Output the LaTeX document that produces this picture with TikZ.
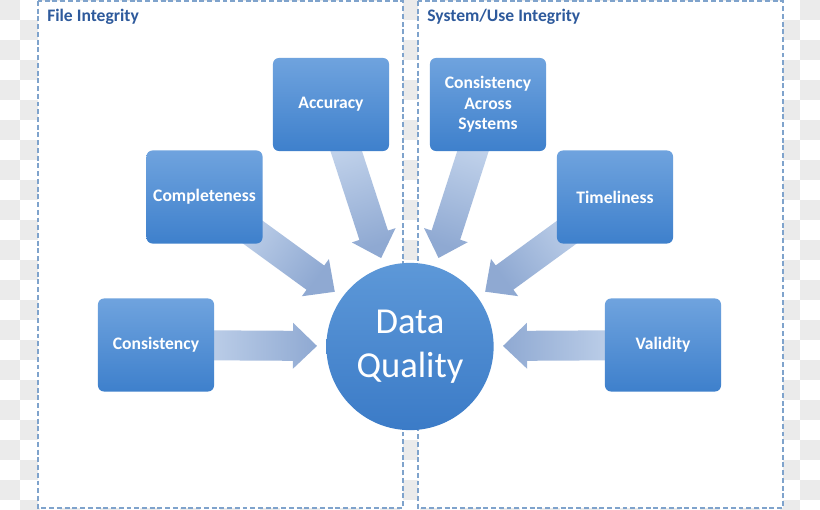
\documentclass[tikz,border=0pt]{standalone}
\usepackage{fontspec}
\setmainfont{Carlito}
\usetikzlibrary{calc}

\definecolor{checkgray}{HTML}{EBEBEB}
\definecolor{framecol}{HTML}{7FA3CC}
\definecolor{titlecol}{HTML}{2E5A9C}
\definecolor{boxtop}{HTML}{6FA3DE}
\definecolor{boxbot}{HTML}{3E80CC}
\definecolor{coretop}{HTML}{5D98D8}
\definecolor{corebot}{HTML}{3B7BC7}
\definecolor{arrowlight}{HTML}{D2E0F3}
\definecolor{arrowdark}{HTML}{8FA9D2}

\pgfdeclarelayer{back}
\pgfdeclarelayer{mid}
\pgfsetlayers{back,mid,main}

\tikzset{
  factor/.style={rectangle, rounded corners=0.15cm, top color=boxtop, bottom color=boxbot,
    text=white, font=\bfseries\fontsize{12.5}{14.5}\selectfont, align=center,
    minimum width=2.9cm, minimum height=2.325cm, inner sep=2pt},
  core/.style={circle, top color=coretop, bottom color=corebot, text=white,
    font=\fontsize{26}{31}\selectfont, align=center, minimum size=4.18cm, inner sep=0pt},
  frame/.style={draw=framecol, fill=white, line width=0.8pt, dash pattern=on 3.5pt off 2pt},
  heading/.style={anchor=base west, text=titlecol, inner sep=0pt,
    font=\bfseries\fontsize{12.5}{15}\selectfont},
  bigarrow/.style={top color=arrowdark, bottom color=arrowlight, shading angle=#1}
}

% block arrow from a box to the circle
\newcommand\feed[3]{%
  \coordinate (tip) at ($(#2)!2.325cm!(#1)$);
  \coordinate (neck) at ($(tip)!0.6cm!(#1)$);
  \path[bigarrow=#3] ($(#1)!0.375cm!90:(tip)$) -- ($(neck)!0.375cm!90:(tip)$)
    -- ($(neck)!0.575cm!90:(tip)$) -- (tip) -- ($(neck)!0.575cm!-90:(tip)$)
    -- ($(neck)!0.375cm!-90:(tip)$) -- ($(#1)!0.375cm!-90:(tip)$) -- cycle;
}

\begin{document}
\begin{tikzpicture}[x=0.025cm, y=-0.025cm]
  \useasboundingbox (0,0) rectangle (820,510);

  \begin{pgfonlayer}{back}
    \begin{scope}
      \clip (0,0) rectangle (820,510);
      \foreach \i in {0,...,40}
        \foreach \j in {0,...,25} {
          \pgfmathtruncatemacro\k{mod(\i+\j,2)}
          \ifnum\k=0 \fill[checkgray] (\i*20,\j*20) rectangle +(20,20); \fi
        }
    \end{scope}
    \draw[frame] (38,1) rectangle (403,508);
    \draw[frame] (418,1) rectangle (783,508);
  \end{pgfonlayer}

  \node[heading] (file) at (47,22) {File Integrity};
  \node[heading] (sys)  at (427,22) {System/Use Integrity};

  \node[factor] (acc)  at (331,104.5) {Accuracy};
  \node[factor] (comp) at (204.5,197) {Completeness};
  \node[factor] (cons) at (156,345) {Consistency};
  \node[factor] (cas)  at (488,104.5) {Consistency\\Across\\Systems};
  \node[factor] (time) at (615,197) {Timeliness};
  \node[factor] (val)  at (663,345) {Validity};
  \node[core]   (dq)   at (410,346.5) {Data\\Quality};

  \begin{pgfonlayer}{mid}
    \feed{cons}{dq}{-90}
    \feed{comp}{dq}{-126}
    \feed{acc}{dq}{-162}
    \feed{cas}{dq}{162}
    \feed{time}{dq}{126}
    \feed{val}{dq}{90}
  \end{pgfonlayer}
\end{tikzpicture}
\end{document}
